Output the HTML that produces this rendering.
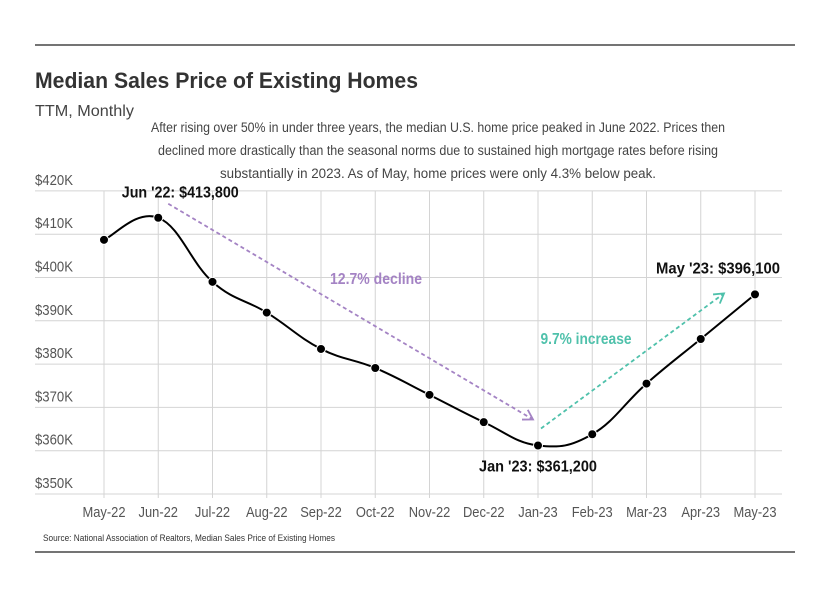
<!DOCTYPE html>
<html><head><meta charset="utf-8"><style>
body{margin:0;background:#fff}
svg{display:block;font-family:"Liberation Sans Narrow","Liberation Sans",sans-serif}
</style></head><body>
<svg id="chart" width="828" height="595" viewBox="0 0 828 595">
<line x1="35" y1="45" x2="795" y2="45" stroke="#222" stroke-width="1.2"/>
<line x1="35" y1="552" x2="795" y2="552" stroke="#222" stroke-width="1.2"/>
<text x="35" y="88" font-size="22" font-weight="bold" fill="#333" font-family="Liberation Sans,sans-serif" textLength="383" lengthAdjust="spacingAndGlyphs">Median Sales Price of Existing Homes</text>
<text x="35" y="116" font-size="16" fill="#444" textLength="99" lengthAdjust="spacingAndGlyphs">TTM, Monthly</text>
<g font-size="13.5" fill="#444" text-anchor="middle">
<text x="438" y="132" textLength="574" lengthAdjust="spacingAndGlyphs">After rising over 50% in under three years, the median U.S. home price peaked in June 2022. Prices then</text>
<text x="438" y="155" textLength="560" lengthAdjust="spacingAndGlyphs">declined more drastically than the seasonal norms due to sustained high mortgage rates before rising</text>
<text x="438" y="178" textLength="436" lengthAdjust="spacingAndGlyphs">substantially in 2023. As of May, home prices were only 4.3% below peak.</text>
</g>
<g id="grid"></g>
<g id="arrows"></g>
<g id="series"></g>
<text x="43" y="541" font-size="9" fill="#333" textLength="292" lengthAdjust="spacingAndGlyphs">Source:  National Association of Realtors, Median Sales Price of Existing Homes</text>
</svg>
<script>
const categories=["May-22","Jun-22","Jul-22","Aug-22","Sep-22","Oct-22","Nov-22","Dec-22","Jan-23","Feb-23","Mar-23","Apr-23","May-23"];
const values=[408.7,413.8,399.0,391.9,383.5,379.1,372.9,366.6,361.2,363.8,375.5,385.8,396.1];
const yTicks=[350,360,370,380,390,400,410,420];
const yTickLabels=["$350K","$360K","$370K","$380K","$390K","$400K","$410K","$420K"];
const NS="http://www.w3.org/2000/svg";
const x=i=>104+i*54.25;
const y=v=>494-(v-350)*4.33;
function mk(tag,attrs,parent,txt){const e=document.createElementNS(NS,tag);for(const k in attrs)e.setAttribute(k,attrs[k]);if(txt!==undefined)e.textContent=txt;parent.appendChild(e);return e;}
function squeeze(e,f){const w=e.getComputedTextLength();e.setAttribute('textLength',w*f);e.setAttribute('lengthAdjust','spacingAndGlyphs');}
const grid=document.getElementById('grid');
yTicks.forEach((t,i)=>{
 const l=mk('line',{x1:35,x2:782,y1:y(t),y2:y(t),stroke:'#d4d4d4','stroke-width':1},grid);
 
 
 const tx=mk('text',{x:35,y:y(t)-6,'font-size':15,fill:'#555',textLength:38,lengthAdjust:'spacingAndGlyphs'},grid,yTickLabels[i]);
 
 
});
categories.forEach((c,i)=>{
 const l=mk('line',{x1:x(i),x2:x(i),y1:y(420),y2:498,stroke:'#d4d4d4','stroke-width':1},grid);
 
 
 const tx=mk('text',{x:x(i),y:517,'font-size':15,fill:'#555','text-anchor':'middle'},grid,c);
 
 
 squeeze(tx,0.86);
});
const ar=document.getElementById('arrows');
function arrow(x1,y1,x2,y2,col,name){
 const g=mk('g',{},ar);
 
 
 mk('line',{x1,y1,x2,y2,stroke:col,'stroke-width':1.8,'stroke-dasharray':'4 3'},g);
 const a=Math.atan2(y2-y1,x2-x1),L=11;
 const p=[a+2.6,a-2.6].map(b=>[x2+L*Math.cos(b),y2+L*Math.sin(b)]);
 mk('polyline',{points:`${p[0][0]},${p[0][1]} ${x2},${y2} ${p[1][0]},${p[1][1]}`,fill:'none',stroke:col,'stroke-width':1.8},g);
}
arrow(x(1)+10,y(413.8)-14,x(8)-5,y(361.2)-26,'#a483c4','decline-arrow');
arrow(x(8)+3,y(361.2)-17,x(12)-31,y(396.1)-1,'#4fc1ab','increase-arrow');
let t=mk('text',{x:376,y:284,'font-size':16,'font-weight':'bold',fill:'#a483c4','text-anchor':'middle',textLength:92,lengthAdjust:'spacingAndGlyphs'},ar,'12.7% decline');


t=mk('text',{x:586,y:344,'font-size':16,'font-weight':'bold',fill:'#4fc1ab','text-anchor':'middle',textLength:91,lengthAdjust:'spacingAndGlyphs'},ar,'9.7% increase');


const sg=document.getElementById('series');
const pts=values.map((v,i)=>[x(i),y(v)]);
let d=`M${pts[0][0]},${pts[0][1]}`;
for(let i=0;i<pts.length-1;i++){
 const p0=pts[Math.max(i-1,0)],p1=pts[i],p2=pts[i+1],p3=pts[Math.min(i+2,pts.length-1)];
 const k=0.2;
 d+=` C${p1[0]+(p2[0]-p0[0])*k},${p1[1]+(p2[1]-p0[1])*k} ${p2[0]-(p3[0]-p1[0])*k},${p2[1]-(p3[1]-p1[1])*k} ${p2[0]},${p2[1]}`;
}
const path=mk('path',{d,fill:'none',stroke:'#000','stroke-width':2},sg);


pts.forEach((p,i)=>{
 const c=mk('circle',{cx:p[0],cy:p[1],r:4.5,fill:'#000',stroke:'#fff','stroke-width':1},sg);
 
 
});
function lab(txt,xx,yy,anchor,name,w){
 const e=mk('text',{x:xx,y:yy,'font-size':16,'font-weight':'bold',fill:'#111','text-anchor':anchor,textLength:w,lengthAdjust:'spacingAndGlyphs'},sg,txt);
 
 
}
lab("Jun '22: $"+(values[1]*1000).toLocaleString('en-US'),x(1)+22,y(values[1])-20,'middle','peak-label',117);
lab("Jan '23: $"+(values[8]*1000).toLocaleString('en-US'),x(8),y(values[8])+26,'middle','trough-label',118);
lab("May '23: $"+(values[12]*1000).toLocaleString('en-US'),x(12)+25,y(values[12])-21,'end','latest-label',124);
</script>
</body></html>
